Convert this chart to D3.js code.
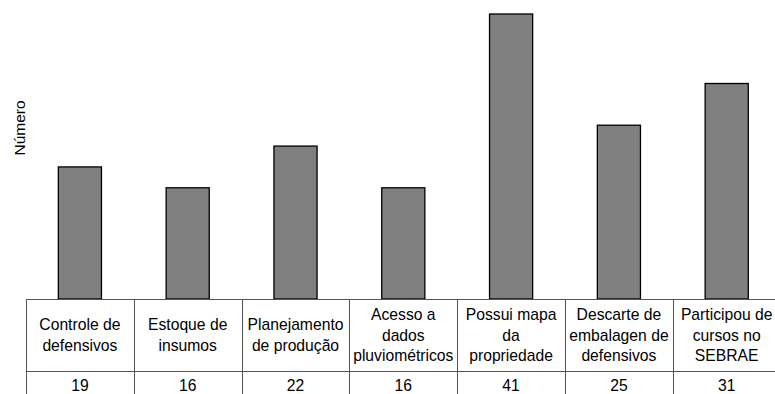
<!DOCTYPE html>
<html>
<head>
<meta charset="utf-8">
<script src="https://cdn.jsdelivr.net/npm/d3@7"></script>
<style>
  html, body { margin: 0; padding: 0; background: #fff; }
  svg { display: block; }
  text { font-family: "Liberation Sans", Arial, sans-serif; fill: #000; }
</style>
</head>
<body>
<svg id="chart" width="775" height="394"></svg>
<script>
// Categories (each entry is the wrapped label, one string per line)
const categories = [
  ["Controle de", "defensivos"],
  ["Estoque de", "insumos"],
  ["Planejamento", "de produção"],
  ["Acesso a", "dados", "pluviométricos"],
  ["Possui mapa", "da", "propriedade"],
  ["Descarte de", "embalagen de", "defensivos"],
  ["Participou de", "cursos no", "SEBRAE"]
];
const values = [19, 16, 22, 16, 41, 25, 31];
const yLabel = "Número";

const svg = d3.select("#chart");
const W = 775, H = 394;

const tableLeft = 26, tableRight = 780.6;
const baseY = 299;        // bottom of plot / top of data table
const midY = 371;         // line between label row and value row
const tableBottom = 398;

const keys = categories.map((c, i) => i);
const x = d3.scaleBand().domain(keys).range([tableLeft, tableRight]).padding(0);
const y = d3.scaleLinear().domain([0, 41]).range([baseY, 14]);

const bw = x.bandwidth();
const barW = bw * 0.4;

// Bars
svg.append("g").selectAll("rect")
  .data(values)
  .join("rect")
  .attr("x", (d, i) => x(i) + (bw - barW) / 2)
  .attr("y", d => y(d))
  .attr("width", barW)
  .attr("height", d => y(0) - y(d))
  .attr("fill", "#808080")
  .attr("stroke", "#000")
  .attr("stroke-width", 1.3);

// Y axis title
svg.append("text")
  .attr("transform", `translate(25,128) rotate(-90)`)
  .attr("text-anchor", "middle")
  .style("font-size", "15.5px")
  .text(yLabel);

// Data table grid
const grid = svg.append("g").attr("stroke", "#555").attr("stroke-width", 1).attr("fill", "none");
grid.append("line").attr("x1", tableLeft).attr("x2", tableRight).attr("y1", baseY + 0.5).attr("y2", baseY + 0.5);
grid.append("line").attr("x1", tableLeft).attr("x2", tableRight).attr("y1", midY + 0.5).attr("y2", midY + 0.5);
grid.append("line").attr("x1", tableLeft).attr("x2", tableRight).attr("y1", tableBottom).attr("y2", tableBottom);
grid.selectAll("line.v")
  .data(keys.concat([keys.length]))
  .join("line")
  .attr("class", "v")
  .attr("x1", i => Math.round(i < keys.length ? x(i) : tableRight) + 0.5)
  .attr("x2", i => Math.round(i < keys.length ? x(i) : tableRight) + 0.5)
  .attr("y1", baseY)
  .attr("y2", tableBottom);

// Category labels, vertically centred in the label row
const lineH = 20.5;
const labelCenter = 335;
const labels = svg.append("g").style("font-size", "15.7px").attr("text-anchor", "middle");
categories.forEach((lines, i) => {
  const cx = x(i) + bw / 2;
  const first = labelCenter - (lines.length - 1) * lineH / 2;
  lines.forEach((t, j) => {
    labels.append("text")
      .attr("x", cx)
      .attr("y", first + j * lineH)
      .attr("dy", "0.36em")
      .text(t);
  });
});

// Value row
svg.append("g").style("font-size", "15.7px").attr("text-anchor", "middle")
  .selectAll("text")
  .data(values)
  .join("text")
  .attr("x", (d, i) => x(i) + bw / 2)
  .attr("y", 385)
  .attr("dy", "0.36em")
  .text(d => d);
</script>
</body>
</html>
